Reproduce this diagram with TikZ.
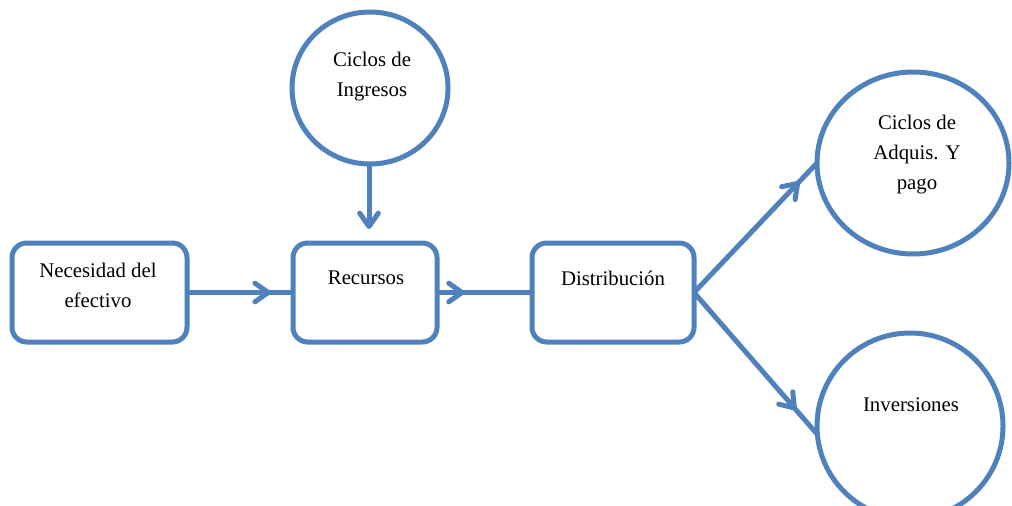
\documentclass[tikz,border=0pt]{standalone}
\usepackage{fontspec}
\setmainfont{Liberation Serif}
\usetikzlibrary{arrows.meta,shapes.geometric,decorations.markings}

\definecolor{flowblue}{HTML}{4F81BD}

\tikzset{
  flowline/.style={draw=flowblue, line width=3.75pt},
  stepbox/.style={flowline, rectangle, rounded corners=11pt, inner sep=0pt, outer sep=0pt},
  cyclenode/.style={flowline, ellipse, inner sep=0pt, outer sep=0pt},
  caption/.style={font=\fontsize{15.6pt}{22.5pt}\selectfont, align=center, inner sep=0pt},
  barb/.tip={Straight Barb[length=10pt, width=14pt, line cap=round, line join=round]},
  midarrow/.style={postaction={decorate}, decoration={markings, mark=at position #1 with {\arrow{barb}}}}
}

\begin{document}
\begin{tikzpicture}[x=0.75pt, y=-0.75pt]
  \useasboundingbox (0,0) rectangle (1012,506);

  % process boxes
  \node[stepbox, minimum width=131.25pt, minimum height=74.25pt] (need) at (99.5,292.5) {};
  \node[stepbox, minimum width=108pt, minimum height=74.25pt] (res) at (365,292.5) {};
  \node[stepbox, minimum width=121.5pt, minimum height=74.25pt] (dist) at (613,292.5) {};

  % cycles
  \node[cyclenode, minimum width=117pt, minimum height=114pt] (ing) at (370,88) {};
  \node[cyclenode, minimum width=144pt, minimum height=136.5pt] (adq) at (913,163) {};
  \node[cyclenode, minimum width=139.5pt, minimum height=139.5pt] (inv) at (910,426) {};

  % labels
  \node[caption] (tneed) at (98,285) {Necesidad del\\efectivo};
  \node[caption] (tres) at (366,278) {Recursos};
  \node[caption] (tdist) at (613,278) {Distribución};
  \node[caption] (ting) at (372,77) {Ciclos de\\Ingresos};
  \node[caption] (tadq) at (917,155) {Ciclos de\\Adquis. Y\\pago};
  \node[caption] (tinv) at (911,405) {Inversiones};

  % connectors
  \draw[flowline, midarrow=0.79] (need.east) -- (res.west);
  \draw[flowline, midarrow=0.29] (res.east) -- (dist.west);
  \draw[flowline, -barb, shorten >=10.5pt] (ing.south -| 369,0) -- (369,0 |- res.north);
  \draw[flowline, midarrow=0.86] (dist.east) -- (adq.west);
  \draw[flowline, midarrow=0.83] (dist.east) -- ([yshift=-6pt]inv.west);
\end{tikzpicture}
\end{document}
